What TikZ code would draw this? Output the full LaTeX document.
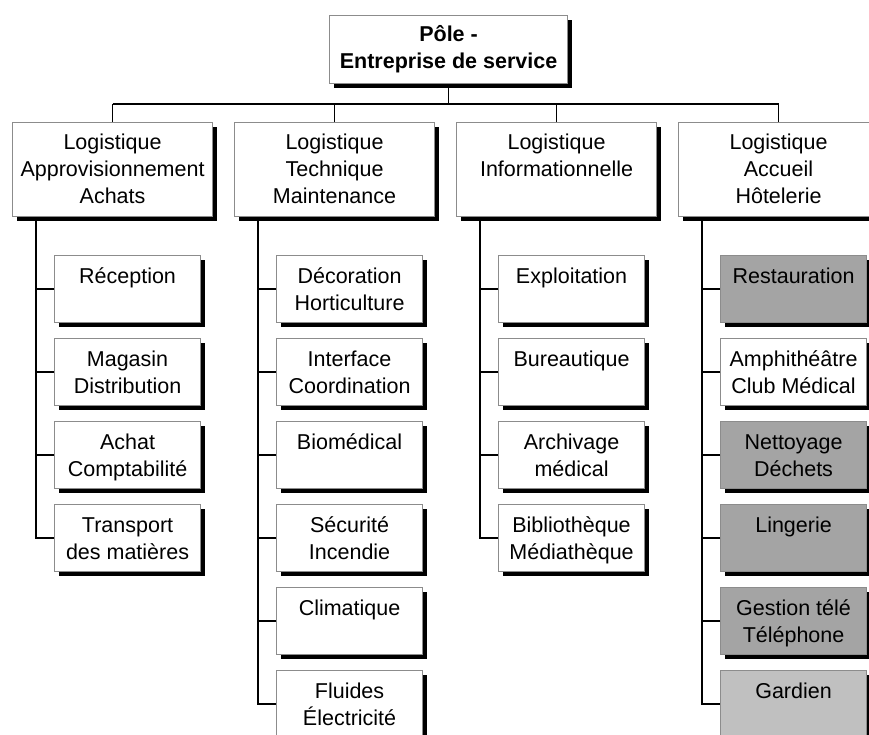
\documentclass[tikz,border=0pt]{standalone}
\usepackage{fontspec}
\setmainfont{Liberation Sans}
\usetikzlibrary{shadows}

\definecolor{boxedge}{RGB}{140,140,140}
\definecolor{fillmid}{RGB}{164,164,164}
\definecolor{filllight}{RGB}{192,192,192}

% text block pinned to the top of a box: first baseline #1 below the top edge
\newcommand{\boxtext}[4]{\parbox[t][#2][t]{#3}{\centering\rule{0pt}{#1}#4}}

\tikzset{
  orgbox/.style={draw=boxedge, line width=1.1pt, fill=white, inner sep=0pt,
    anchor=north west,
    drop shadow={shadow xshift=4pt, shadow yshift=-4pt, fill=black, opacity=1}},
  midbox/.style={orgbox, fill=fillmid},
  lightbox/.style={orgbox, fill=filllight},
  conn/.style={draw=black, line width=1.6pt},
}

\begin{document}
\begin{tikzpicture}[x=1pt, y=-1pt,
  font=\fontsize{21.5}{27}\selectfont]
\useasboundingbox (0,0) rectangle (869,734);

% root
\node[orgbox] (root) at (329,15)
  {\boxtext{26pt}{68pt}{238pt}{\bfseries Pôle -\\Entreprise de service}};

% first level
\node[orgbox] (l1) at (12,122)
  {\boxtext{27pt}{94pt}{200pt}{Logistique\\Approvisionnement\\Achats}};
\node[orgbox] (l2) at (234,122)
  {\boxtext{27pt}{94pt}{200pt}{Logistique\\Technique\\Maintenance}};
\node[orgbox] (l3) at (456,122)
  {\boxtext{27pt}{94pt}{200pt}{Logistique\\Informationnelle}};
\node[orgbox] (l4) at (678,122)
  {\boxtext{27pt}{94pt}{200pt}{Logistique\\Accueil\\Hôtelerie}};

% children, column 1
\node[orgbox] (a1) at (54,255) {\boxtext{28pt}{67pt}{146pt}{Réception}};
\node[orgbox] (a2) at (54,338) {\boxtext{28pt}{67pt}{146pt}{Magasin\\Distribution}};
\node[orgbox] (a3) at (54,421) {\boxtext{28pt}{67pt}{146pt}{Achat\\Comptabilité}};
\node[orgbox] (a4) at (54,504) {\boxtext{28pt}{67pt}{146pt}{Transport\\des matières}};

% children, column 2
\node[orgbox] (b1) at (276,255) {\boxtext{28pt}{67pt}{146pt}{Décoration\\Horticulture}};
\node[orgbox] (b2) at (276,338) {\boxtext{28pt}{67pt}{146pt}{Interface\\Coordination}};
\node[orgbox] (b3) at (276,421) {\boxtext{28pt}{67pt}{146pt}{Biomédical}};
\node[orgbox] (b4) at (276,504) {\boxtext{28pt}{67pt}{146pt}{Sécurité\\Incendie}};
\node[orgbox] (b5) at (276,587) {\boxtext{28pt}{67pt}{146pt}{Climatique}};
\node[orgbox] (b6) at (276,670) {\boxtext{28pt}{67pt}{146pt}{Fluides\\Électricité}};

% children, column 3
\node[orgbox] (c1) at (498,255) {\boxtext{28pt}{67pt}{146pt}{Exploitation}};
\node[orgbox] (c2) at (498,338) {\boxtext{28pt}{67pt}{146pt}{Bureautique}};
\node[orgbox] (c3) at (498,421) {\boxtext{28pt}{67pt}{146pt}{Archivage\\médical}};
\node[orgbox] (c4) at (498,504) {\boxtext{28pt}{67pt}{146pt}{Bibliothèque\\Médiathèque}};

% children, column 4
\node[midbox]   (d1) at (720,255) {\boxtext{28pt}{67pt}{146pt}{Restauration}};
\node[orgbox]   (d2) at (720,338) {\boxtext{28pt}{67pt}{146pt}{Amphithéâtre\\Club Médical}};
\node[midbox]   (d3) at (720,421) {\boxtext{28pt}{67pt}{146pt}{Nettoyage\\Déchets}};
\node[midbox]   (d4) at (720,504) {\boxtext{28pt}{67pt}{146pt}{Lingerie}};
\node[midbox]   (d5) at (720,587) {\boxtext{28pt}{67pt}{146pt}{Gestion télé\\Téléphone}};
\node[lightbox] (d6) at (720,670) {\boxtext{28pt}{67pt}{146pt}{Gardien}};

% bus under the root
\coordinate (bus) at (0,104);
\draw[conn] (root.south) -- (root.south |- bus);
\draw[conn] (l1.north |- bus) -- (l4.north |- bus);
\foreach \n in {l1,l2,l3,l4}
  \draw[conn] (\n.north |- bus) -- (\n.north);

% vertical stems with branches to each child
\draw[conn] ([xshift=24pt]l1.south west) |- (a4.west);
\foreach \c in {a1,a2,a3}
  \draw[conn] (\c.west) -- ([xshift=24pt]l1.south west |- \c.west);

\draw[conn] ([xshift=24pt]l2.south west) |- (b6.west);
\foreach \c in {b1,b2,b3,b4,b5}
  \draw[conn] (\c.west) -- ([xshift=24pt]l2.south west |- \c.west);

\draw[conn] ([xshift=24pt]l3.south west) |- (c4.west);
\foreach \c in {c1,c2,c3}
  \draw[conn] (\c.west) -- ([xshift=24pt]l3.south west |- \c.west);

\draw[conn] ([xshift=24pt]l4.south west) |- (d6.west);
\foreach \c in {d1,d2,d3,d4,d5}
  \draw[conn] (\c.west) -- ([xshift=24pt]l4.south west |- \c.west);
\end{tikzpicture}
\end{document}
